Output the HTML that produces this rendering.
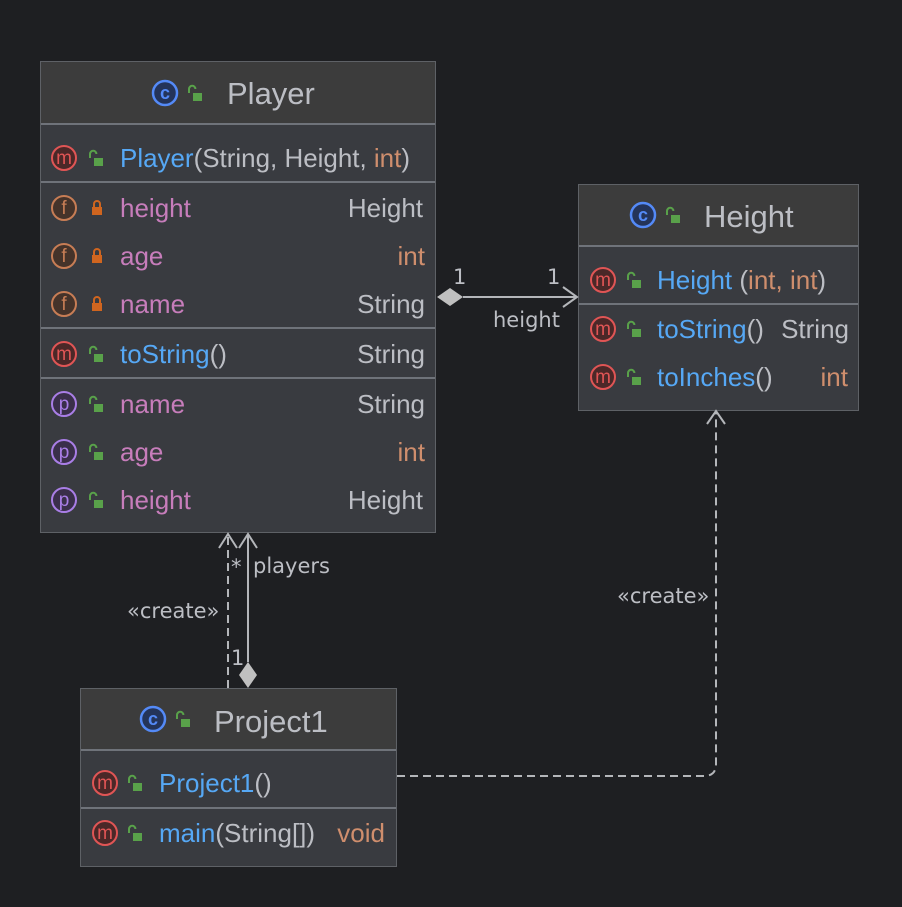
<!DOCTYPE html>
<html><head><meta charset="utf-8"><style>
html,body{margin:0;padding:0;background:#1e1f22;}
svg{display:block;font-family:"Liberation Sans",sans-serif;}
</style></head><body>
<svg width="902" height="907" viewBox="0 0 902 907" xmlns="http://www.w3.org/2000/svg">
<defs>
<g id="ul"><path d="M-5,-2 v-4 a3.2,3.2 0 0 1 6.4,0" fill="none" stroke="#59a14a" stroke-width="2"/><rect x="-1" y="-2" width="9" height="8" fill="#59a14a"/></g>
<g id="lk"><path d="M-3,-1 v-3 a3,3 0 0 1 6,0 v3" fill="none" stroke="#d0651f" stroke-width="2"/><rect x="-5" y="-1" width="10" height="8" fill="#d0651f"/></g>
<g id="im"><circle r="12" fill="#4b2828" stroke="#e05555" stroke-width="2"/><text y="6" text-anchor="middle" font-size="19" fill="#e05555">m</text></g>
<g id="if"><circle r="12" fill="#45332a" stroke="#c77d55" stroke-width="2"/><text y="6" text-anchor="middle" font-size="19" fill="#c77d55">f</text></g>
<g id="ip"><circle r="12" fill="#3a2f4a" stroke="#a97ee6" stroke-width="2"/><text y="6" text-anchor="middle" font-size="19" fill="#a97ee6">p</text></g>
<g id="ic"><circle r="12" fill="#24345a" stroke="#548af7" stroke-width="2.5"/><text y="6" text-anchor="middle" font-size="18" font-weight="bold" fill="#548af7">c</text></g>
</defs>

<!-- Player -->
<rect x="40.5" y="61.5" width="395" height="471" fill="#393b40" stroke="#5e6166"/>
<rect x="41" y="62" width="394" height="62" fill="#3c3c3c"/>
<g stroke="#6f737a" stroke-width="2"><line x1="41" y1="124" x2="435" y2="124"/><line x1="41" y1="182" x2="435" y2="182"/><line x1="41" y1="328" x2="435" y2="328"/><line x1="41" y1="378" x2="435" y2="378"/></g>
<use href="#ic" x="165" y="93"/><use href="#ul" x="194" y="95"/>
<text x="227" y="104" font-size="31" fill="#bcbec4">Player</text>
<g font-size="26">
<use href="#im" x="64" y="158"/><use href="#ul" x="95" y="160"/>
<text x="120" y="167" textLength="290" lengthAdjust="spacingAndGlyphs"><tspan fill="#56a8f5">Player</tspan><tspan fill="#bcbec4">(String, Height, </tspan><tspan fill="#cf8e6d">int</tspan><tspan fill="#bcbec4">)</tspan></text>
<use href="#if" x="64" y="208"/><use href="#lk" x="97" y="208"/><text x="120" y="217" fill="#c77dbb">height</text><text x="423" y="217" text-anchor="end" fill="#bcbec4">Height</text>
<use href="#if" x="64" y="256"/><use href="#lk" x="97" y="256"/><text x="120" y="265" fill="#c77dbb">age</text><text x="425" y="265" text-anchor="end" fill="#cf8e6d">int</text>
<use href="#if" x="64" y="304"/><use href="#lk" x="97" y="304"/><text x="120" y="313" fill="#c77dbb">name</text><text x="425" y="313" text-anchor="end" fill="#bcbec4">String</text>
<use href="#im" x="64" y="354"/><use href="#ul" x="95" y="356"/><text x="120" y="363"><tspan fill="#56a8f5">toString</tspan><tspan fill="#bcbec4">()</tspan></text><text x="425" y="363" text-anchor="end" fill="#bcbec4">String</text>
<use href="#ip" x="64" y="404"/><use href="#ul" x="95" y="406"/><text x="120" y="413" fill="#c77dbb">name</text><text x="425" y="413" text-anchor="end" fill="#bcbec4">String</text>
<use href="#ip" x="64" y="452"/><use href="#ul" x="95" y="454"/><text x="120" y="461" fill="#c77dbb">age</text><text x="425" y="461" text-anchor="end" fill="#cf8e6d">int</text>
<use href="#ip" x="64" y="500"/><use href="#ul" x="95" y="502"/><text x="120" y="509" fill="#c77dbb">height</text><text x="423" y="509" text-anchor="end" fill="#bcbec4">Height</text>
</g>

<!-- Height -->
<rect x="578.5" y="184.5" width="280" height="226" fill="#393b40" stroke="#5e6166"/>
<rect x="579" y="185" width="279" height="61" fill="#3c3c3c"/>
<g stroke="#6f737a" stroke-width="2"><line x1="579" y1="246" x2="858" y2="246"/><line x1="579" y1="304" x2="858" y2="304"/></g>
<use href="#ic" x="643" y="215"/><use href="#ul" x="672" y="217"/>
<text x="704" y="227" font-size="31" fill="#bcbec4">Height</text>
<g font-size="26">
<use href="#im" x="603" y="280"/><use href="#ul" x="633" y="282"/><text x="657" y="289"><tspan fill="#56a8f5">Height</tspan><tspan fill="#bcbec4"> (</tspan><tspan fill="#cf8e6d">int, int</tspan><tspan fill="#bcbec4">)</tspan></text>
<use href="#im" x="603" y="329"/><use href="#ul" x="633" y="331"/><text x="657" y="338"><tspan fill="#56a8f5">toString</tspan><tspan fill="#bcbec4">()</tspan></text><text x="849" y="338" text-anchor="end" fill="#bcbec4">String</text>
<use href="#im" x="603" y="377"/><use href="#ul" x="633" y="379"/><text x="657" y="386"><tspan fill="#56a8f5">toInches</tspan><tspan fill="#bcbec4">()</tspan></text><text x="848" y="386" text-anchor="end" fill="#cf8e6d">int</text>
</g>

<!-- Project1 -->
<rect x="80.5" y="688.5" width="316" height="178" fill="#393b40" stroke="#5e6166"/>
<rect x="81" y="689" width="315" height="61" fill="#3c3c3c"/>
<g stroke="#6f737a" stroke-width="2"><line x1="81" y1="750" x2="396" y2="750"/><line x1="81" y1="808" x2="396" y2="808"/></g>
<use href="#ic" x="153" y="719"/><use href="#ul" x="182" y="721"/>
<text x="214" y="732" font-size="31" fill="#bcbec4">Project1</text>
<g font-size="26">
<use href="#im" x="105" y="783"/><use href="#ul" x="134" y="785"/><text x="159" y="792"><tspan fill="#56a8f5">Project1</tspan><tspan fill="#bcbec4">()</tspan></text>
<use href="#im" x="105" y="833"/><use href="#ul" x="134" y="835"/><text x="159" y="842"><tspan fill="#56a8f5">main</tspan><tspan fill="#bcbec4">(String[])</tspan></text><text x="385" y="842" text-anchor="end" fill="#cf8e6d">void</text>
</g>

<!-- connectors -->
<g stroke="#b4b6ba" stroke-width="2" fill="none">
<line x1="463" y1="297" x2="576" y2="297"/>
<polyline points="563,287 577,297 563,307"/>
<path d="M397,776 H704 Q716,776 716,764 V412" stroke-dasharray="8,5"/>
<polyline points="707,424 716,411 725,424"/>
<line x1="228" y1="688" x2="228" y2="535" stroke-dasharray="8,5"/>
<polyline points="219,548 228,534 237,548"/>
<line x1="248" y1="662" x2="248" y2="535"/>
<polyline points="239,548 248,534 257,548"/>
</g>
<polygon points="437,297 450,288 463,297 450,306" fill="#c0c0c0"/>
<polygon points="248,662 257,675 248,688 239,675" fill="#c0c0c0"/>
<g font-size="21" fill="#bcbec4" font-family="DejaVu Sans, sans-serif">
<text x="453" y="284">1</text>
<text x="547" y="284">1</text>
<text x="493" y="327">height</text>
<text x="231" y="574">*</text>
<text x="253" y="573">players</text>
<text x="231" y="665">1</text>
<text x="127" y="618">«create»</text>
<text x="617" y="603">«create»</text>
</g>
</svg>
</body></html>
